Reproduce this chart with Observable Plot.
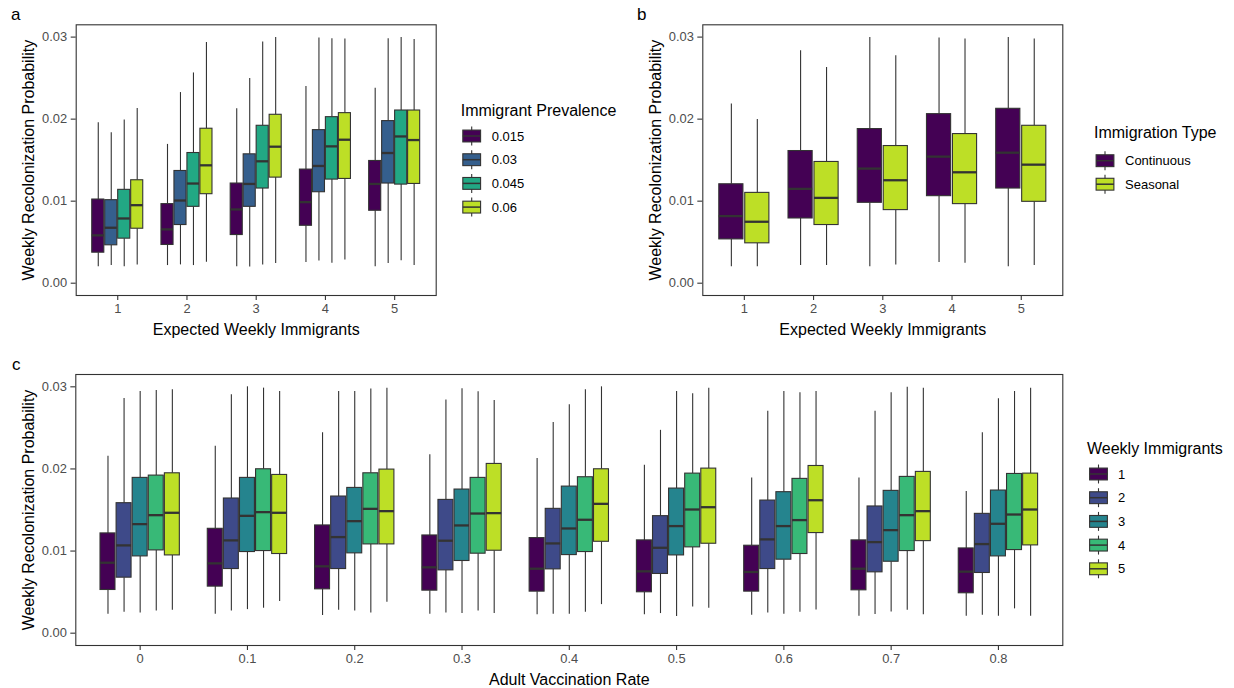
<!DOCTYPE html>
<html><head><meta charset="utf-8">
<script src="https://cdn.jsdelivr.net/npm/d3@7"></script>
<script src="https://cdn.jsdelivr.net/npm/@observablehq/plot@0.6"></script>
<style>
body{margin:0;background:#fff;}
#root{position:relative;width:1234px;height:688px;overflow:hidden;background:#fff;font-family:"Liberation Sans",Arial,sans-serif;}
#root > svg, #root > div{position:absolute;}
[aria-label$="tick label"], [aria-label$="tick label"] text{fill:#4d4d4d;}
</style></head><body><div id="root"></div>
<script>
// ---------- Panel a: Immigrant Prevalence ----------
const aGroups = ["1","2","3","4","5"];
const aSeries = ["0.015","0.03","0.045","0.06"];
const aLo = [
 [0.00202,0.00215,0.00202,0.00251,0.00202],
 [0.00215,0.00223,0.00198,0.00271,0.00239],
 [0.00202,0.00215,0.00223,0.00243,0.00275],
 [0.00223,0.00255,0.00239,0.00283,0.00215]];
const aQ1 = [
 [0.00372,0.00466,0.00587,0.00700,0.00883],
 [0.00462,0.00709,0.00931,0.01109,0.01215],
 [0.00543,0.00931,0.01154,0.01263,0.01202],
 [0.00664,0.01085,0.01287,0.01271,0.01210]];
const aMed = [
 [0.00583,0.00656,0.00899,0.00988,0.01210],
 [0.00676,0.01008,0.01210,0.01429,0.01587],
 [0.00789,0.01215,0.01486,0.01668,0.01789],
 [0.00951,0.01437,0.01664,0.01749,0.01745]];
const aQ3 = [
 [0.01020,0.00964,0.01215,0.01385,0.01490],
 [0.01012,0.01368,0.01571,0.01866,0.01976],
 [0.01138,0.01587,0.01919,0.02024,0.02105],
 [0.01255,0.01883,0.02053,0.02073,0.02105]];
const aHi = [
 [0.01955,0.01692,0.02126,0.02397,0.02377],
 [0.01834,0.02324,0.02494,0.02988,0.02980],
 [0.01988,0.02563,0.02939,0.02980,0.02996],
 [0.02130,0.02935,0.02996,0.02976,0.02972]];

// ---------- Panel b: Immigration Type ----------
const bGroups = ["1","2","3","4","5"];
const bSeries = ["Continuous","Seasonal"];
const bLo  = [[0.00202,0.00215,0.00202,0.00251,0.00202],[0.00202,0.00215,0.00223,0.00243,0.00215]];
const bQ1  = [[0.00534,0.00789,0.00980,0.01061,0.01154],[0.00486,0.00709,0.00891,0.00964,0.00992]];
const bMed = [[0.00818,0.01150,0.01397,0.01543,0.01591],[0.00749,0.01040,0.01255,0.01352,0.01445]];
const bQ3  = [[0.01206,0.01611,0.01879,0.02061,0.02126],[0.01101,0.01478,0.01672,0.01818,0.01919]];
const bHi  = [[0.02186,0.02834,0.02996,0.02988,0.02996],[0.01996,0.02628,0.02773,0.02976,0.02976]];

// ---------- Panel c: Adult Vaccination Rate ----------
const cGroups = ["0","0.1","0.2","0.3","0.4","0.5","0.6","0.7","0.8"];
const cSeries = ["1","2","3","4","5"];
const cLo = [
 [0.00231,0.00231,0.00215,0.00231,0.00223,0.00223,0.00219,0.00206,0.00206],
 [0.00255,0.00271,0.00279,0.00247,0.00231,0.00239,0.00247,0.00227,0.00219],
 [0.00247,0.00287,0.00271,0.00239,0.00231,0.00202,0.00231,0.00259,0.00206],
 [0.00271,0.00304,0.00247,0.00271,0.00255,0.00320,0.00255,0.00279,0.00296],
 [0.00279,0.00385,0.00377,0.00239,0.00348,0.00304,0.00283,0.00223,0.00206]];
const cQ1 = [
 [0.00526,0.00567,0.00534,0.00518,0.00506,0.00498,0.00506,0.00522,0.00486],
 [0.00676,0.00781,0.00781,0.00765,0.00777,0.00721,0.00781,0.00741,0.00733],
 [0.00935,0.00988,0.00972,0.00879,0.00951,0.00947,0.00895,0.00870,0.00935],
 [0.01008,0.01000,0.01081,0.00968,0.00988,0.01045,0.00964,0.01000,0.01012],
 [0.00947,0.00964,0.01081,0.01004,0.01113,0.01089,0.01219,0.01121,0.01069]];
const cMed = [
 [0.00858,0.00850,0.00814,0.00802,0.00785,0.00753,0.00745,0.00785,0.00749],
 [0.01069,0.01130,0.01170,0.01126,0.01093,0.01040,0.01142,0.01109,0.01085],
 [0.01328,0.01429,0.01364,0.01312,0.01275,0.01304,0.01304,0.01255,0.01332],
 [0.01437,0.01474,0.01514,0.01457,0.01381,0.01506,0.01377,0.01437,0.01445],
 [0.01466,0.01466,0.01486,0.01462,0.01575,0.01534,0.01619,0.01486,0.01506]];
const cQ3 = [
 [0.01215,0.01271,0.01312,0.01190,0.01158,0.01130,0.01065,0.01130,0.01032],
 [0.01583,0.01640,0.01664,0.01623,0.01514,0.01425,0.01615,0.01543,0.01453],
 [0.01891,0.01891,0.01769,0.01749,0.01785,0.01761,0.01717,0.01733,0.01737],
 [0.01919,0.01996,0.01947,0.01891,0.01899,0.01943,0.01879,0.01903,0.01939],
 [0.01947,0.01927,0.01992,0.02061,0.01996,0.02004,0.02036,0.01964,0.01943]];
const cHi = [
 [0.02154,0.02275,0.02441,0.02174,0.02126,0.02045,0.01891,0.01891,0.01725],
 [0.02858,0.02903,0.02943,0.02838,0.02567,0.02470,0.02704,0.02704,0.02441],
 [0.02943,0.03000,0.02943,0.02976,0.02781,0.02943,0.02943,0.02927,0.02854],
 [0.02955,0.02984,0.02972,0.02939,0.02964,0.02915,0.02927,0.02996,0.02943],
 [0.02964,0.02943,0.02984,0.02834,0.03000,0.02984,0.02943,0.02984,0.02984]];

const yTicks = [0, 0.01, 0.02, 0.03];
const yTitle = "Weekly Recolonization Probability";

// ---------- styling ----------
const FONT = '"Liberation Sans", Arial, sans-serif';
const INK = "#333333";
const viridis = k => d3.range(k).map(i => d3.interpolateViridis(k === 1 ? 0 : 0.9 * i / (k - 1)));

function boxPanel({groups, series, lo, q1, med, q3, hi, xTitle, width, height, margins}) {
  const k = series.length, slot = 0.75 / k, bw = slot * 0.93, n = groups.length;
  const rows = [];
  series.forEach((s, si) => groups.forEach((g, gi) => {
    const c = gi + 1 + (si - (k - 1) / 2) * slot;
    rows.push({s, c, x1: c - bw / 2, x2: c + bw / 2,
      lo: lo[si][gi], q1: q1[si][gi], med: med[si][gi], q3: q3[si][gi], hi: hi[si][gi]});
  }));
  return Plot.plot({
    width, height, ...margins,
    style: {fontFamily: FONT, background: "transparent", overflow: "visible"},
    x: {type: "linear", domain: [0.4, n + 0.6]},
    y: {domain: [-0.0015, 0.0315]},
    color: {type: "ordinal", domain: series, range: viridis(k)},
    marks: [
      Plot.ruleX(rows, {x: "c", y1: "lo", y2: "q1", stroke: INK, strokeWidth: 1.1}),
      Plot.ruleX(rows, {x: "c", y1: "q3", y2: "hi", stroke: INK, strokeWidth: 1.1}),
      Plot.rect(rows, {x1: "x1", x2: "x2", y1: "q1", y2: "q3", fill: "s", stroke: INK, strokeWidth: 1.1}),
      Plot.ruleY(rows, {x1: "x1", x2: "x2", y: "med", stroke: INK, strokeWidth: 2.3}),
      Plot.frame({stroke: INK, strokeWidth: 1.1}),
      Plot.axisY({ticks: yTicks, tickFormat: d3.format(".2f"), tickSize: 5, tickPadding: 4,
        fontSize: 12.9, label: null, stroke: INK, strokeWidth: 1.1}),
      Plot.axisX({ticks: d3.range(1, n + 1), tickFormat: d => groups[d - 1], tickSize: 5, tickPadding: 3.4,
        fontSize: 12.9, label: null, stroke: INK, strokeWidth: 1.1}),
      Plot.text([xTitle], {frameAnchor: "bottom", dy: 34, lineAnchor: "middle", textAnchor: "middle",
        fontSize: 16, fill: "black"}),
      Plot.text([yTitle], {frameAnchor: "left", dx: -47.4, rotate: -90, lineAnchor: "middle", textAnchor: "middle",
        fontSize: 16, fill: "black"})
    ]
  });
}

const root = document.getElementById("root");
function place(el, left, top) { el.style.left = left + "px"; el.style.top = top + "px"; root.appendChild(el); }

place(boxPanel({groups: aGroups, series: aSeries, lo: aLo, q1: aQ1, med: aMed, q3: aQ3, hi: aHi,
  xTitle: "Expected Weekly Immigrants", width: 450, height: 345,
  margins: {marginLeft: 75.7, marginRight: 14.3, marginTop: 24.3, marginBottom: 50}}), 0, 0);

place(boxPanel({groups: bGroups, series: bSeries, lo: bLo, q1: bQ1, med: bMed, q3: bQ3, hi: bHi,
  xTitle: "Expected Weekly Immigrants", width: 440, height: 345,
  margins: {marginLeft: 72.3, marginRight: 7.7, marginTop: 24.3, marginBottom: 50}}), 630, 0);

place(boxPanel({groups: cGroups, series: cSeries, lo: cLo, q1: cQ1, med: cMed, q3: cQ3, hi: cHi,
  xTitle: "Adult Vaccination Rate", width: 1070, height: 338,
  margins: {marginLeft: 75.3, marginRight: 7.7, marginTop: 24, marginBottom: 43}}), 0, 350);

// ---------- overlay: panel tags and legends ----------
const ov = d3.create("svg").attr("width", 1234).attr("height", 688)
  .style("left", "0px").style("top", "0px").style("pointer-events", "none")
  .attr("font-family", FONT);
[["a", 11, 19.5], ["b", 637, 19.5], ["c", 12, 370]].forEach(([t, x, y]) =>
  ov.append("text").attr("x", x).attr("y", y).attr("font-size", 17).attr("fill", "black").text(t));

function legend({title, labels, colors, keyCx, titleX, titleY, firstY, step, labelX}) {
  const K = 23.7;
  ov.append("text").attr("x", titleX).attr("y", titleY).attr("dy", "0.35em")
    .attr("font-size", 16).attr("fill", "black").text(title);
  labels.forEach((lab, i) => {
    const cy = firstY + i * step;
    const g = ov.append("g");
    g.append("line").attr("x1", keyCx).attr("x2", keyCx).attr("y1", cy - 0.4 * K).attr("y2", cy + 0.4 * K)
      .attr("stroke", INK).attr("stroke-width", 1.1);
    g.append("rect").attr("x", keyCx - 0.375 * K).attr("y", cy - 0.25 * K).attr("width", 0.75 * K).attr("height", 0.5 * K)
      .attr("fill", colors[i]).attr("stroke", INK).attr("stroke-width", 1.1);
    g.append("line").attr("x1", keyCx - 0.375 * K).attr("x2", keyCx + 0.375 * K).attr("y1", cy).attr("y2", cy)
      .attr("stroke", INK).attr("stroke-width", 1.5);
    ov.append("text").attr("x", labelX).attr("y", cy).attr("dy", "0.35em")
      .attr("font-size", 13).attr("fill", "black").text(lab);
  });
}
legend({title: "Immigrant Prevalence", labels: aSeries, colors: viridis(4), keyCx: 471.7,
  titleX: 460.7, titleY: 110, firstY: 136, step: 23.7, labelX: 491.7});
legend({title: "Immigration Type", labels: bSeries, colors: viridis(2), keyCx: 1105,
  titleX: 1094, titleY: 132.7, firstY: 160.7, step: 23.5, labelX: 1125});
legend({title: "Weekly Immigrants", labels: cSeries, colors: viridis(5), keyCx: 1098.5,
  titleX: 1087, titleY: 448, firstY: 474, step: 23.7, labelX: 1118});
root.appendChild(ov.node());
</script></body></html>
